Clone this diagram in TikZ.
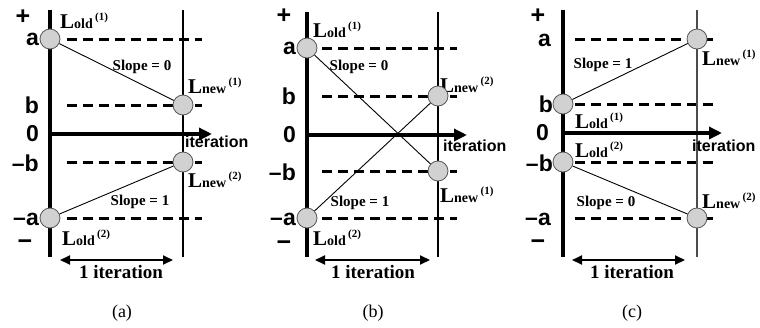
\documentclass[tikz,border=0pt]{standalone}
\usepackage{fontspec}
\setmainfont{Liberation Serif}
\newfontfamily\axfont{Liberation Sans}
\usetikzlibrary{arrows.meta}
\newcommand{\Lbl}[2]{\bfseries\fontsize{21}{21}\selectfont L\fontsize{14}{14}\selectfont #1\,\raisebox{8pt}{\fontsize{11}{11}\selectfont(#2)}}
\begin{document}
\begin{tikzpicture}[x=1pt,y=-1pt,
  axisline/.style={line width=4pt},
  rline/.style={line width=1.5pt},
  dline/.style={line width=3pt, dash pattern=on 10pt off 6pt},
  zarrow/.style={line width=4pt,-{Triangle[length=13pt,width=12pt]}},
  spanarrow/.style={line width=2pt,{Triangle[length=10pt,width=9pt]}-{Triangle[length=10pt,width=9pt]}},
  conn/.style={line width=0.9pt},
  dot/.style={circle, fill=black!18, draw=black!65, line width=0.8pt, minimum size=20pt, inner sep=0pt},
  axl/.style={font=\axfont\bfseries\fontsize{23}{23}\selectfont, anchor=east, inner sep=0pt},
  sgn/.style={font=\axfont\bfseries\fontsize{25}{25}\selectfont, inner sep=0pt},
  slopelbl/.style={font=\bfseries\fontsize{15}{15}\selectfont, inner sep=0pt},
  itl/.style={font=\axfont\bfseries\fontsize{16}{16}\selectfont, anchor=base west, inner sep=0pt},
  lab/.style={anchor=base west, inner sep=0pt},
  onei/.style={font=\bfseries\fontsize{19}{19}\selectfont, anchor=base, inner sep=0pt},
  caplbl/.style={font=\fontsize{18}{18}\selectfont, inner sep=0pt}]
\useasboundingbox[fill=white] (0,0) rectangle (760,327);

% ===== Panel (a) =====
\coordinate (aT) at (50,10); \coordinate (aB) at (50,257);
\coordinate (rT) at (183,10); \coordinate (rB) at (183,257);
\foreach \yy in {39,105,162,218} \draw[dline] (67,\yy) -- (202,\yy);
\draw[axisline] (aT) -- (aB);
\draw[rline] (rT) -- (rB);
\coordinate (az0) at (50,134); \coordinate (az1) at (212,134);
\draw[zarrow] (az0) -- (az1);
\coordinate (as0) at (60,260); \coordinate (as1) at (173,260);
\draw[spanarrow] (as0) -- (as1);
\node[sgn] (aplus) at (23,17) {+};
\node[sgn] (aminus) at (25,245) {−};
\node[axl] (la) at (39,39) {a};
\node[axl] (lb) at (39,105) {b};
\node[axl] (l0) at (39,134) {0};
\node[axl] (lmb) at (39,163) {–b};
\node[axl] (lma) at (39,219) {–a};
\node[lab] (aLo1) at (60,28) {\Lbl{old}{1}};
\node[lab] (aLn1) at (188,93) {\Lbl{new}{1}};
\node[lab] (aLn2) at (188,187) {\Lbl{new}{2}};
\node[lab] (aLo2) at (62,245) {\Lbl{old}{2}};
\node[itl] (ait) at (185,147) {iteration};
\node[slopelbl] (as0l) at (142,67) {Slope = 0};
\node[slopelbl] (as1l) at (140,202) {Slope = 1};
\node[onei] (aone) at (121,278) {1 iteration};
\node[caplbl] (acap) at (122,313) {(a)};
\node[dot] (ao1) at (50,39) {};
\node[dot] (an1) at (183,105) {};
\node[dot] (an2) at (183,162) {};
\node[dot] (ao2) at (50,218) {};
\draw[conn] (ao1) -- (an1);
\draw[conn] (ao2) -- (an2);

% ===== Panel (b) =====
\coordinate (bT) at (307,12); \coordinate (bB) at (307,257);
\coordinate (brT) at (438,12); \coordinate (brB) at (438,257);
\foreach \yy in {48,96,171,218} \draw[dline] (322,\yy) -- (457,\yy);
\draw[axisline] (bT) -- (bB);
\draw[rline] (brT) -- (brB);
\coordinate (bz0) at (307,135); \coordinate (bz1) at (467,135);
\draw[zarrow] (bz0) -- (bz1);
\coordinate (bs0) at (315,260); \coordinate (bs1) at (430,260);
\draw[spanarrow] (bs0) -- (bs1);
\node[sgn] (bplus) at (284,16) {+};
\node[sgn] (bminus) at (284,246) {−};
\node[axl] (bla) at (296,48) {a};
\node[axl] (blb) at (296,96) {b};
\node[axl] (bl0) at (296,135) {0};
\node[axl] (blmb) at (296,172) {–b};
\node[axl] (blma) at (296,219) {–a};
\node[lab] (bLo1) at (313,37) {\Lbl{old}{1}};
\node[lab] (bLn2) at (440,92) {\Lbl{new}{2}};
\node[lab] (bLn1) at (440,202) {\Lbl{new}{1}};
\node[lab] (bLo2) at (313,245) {\Lbl{old}{2}};
\node[itl] (bit) at (443,151) {iteration};
\node[slopelbl] (bs0l) at (359,67) {Slope = 0};
\node[slopelbl] (bs1l) at (360,203) {Slope = 1};
\node[onei] (bone) at (373,278) {1 iteration};
\node[caplbl] (bcap) at (373,313) {(b)};
\node[dot] (bo1) at (307,48) {};
\node[dot] (bn2) at (438,96) {};
\node[dot] (bn1) at (438,171) {};
\node[dot] (bo2) at (307,218) {};
\draw[conn] (bo1) -- (bn1);
\draw[conn] (bo2) -- (bn2);

% ===== Panel (c) =====
\coordinate (cT) at (563,10); \coordinate (cB) at (563,257);
\coordinate (crT) at (697,10); \coordinate (crB) at (697,257);
\foreach \yy in {39,104,162,218} \draw[dline] (575,\yy) -- (715,\yy);
\draw[axisline] (cT) -- (cB);
\draw[rline, black!70] (crT) -- (crB);
\coordinate (cz0) at (563,133); \coordinate (cz1) at (722,133);
\draw[zarrow] (cz0) -- (cz1);
\coordinate (cs0) at (572,260); \coordinate (cs1) at (685,260);
\draw[spanarrow] (cs0) -- (cs1);
\node[sgn] (cplus) at (538,16) {+};
\node[sgn] (cminus) at (538,245) {−};
\node[axl] (cla) at (551,40) {a};
\node[axl] (clb) at (553,104) {b};
\node[axl] (cl0) at (549,133) {0};
\node[axl] (clmb) at (553,163) {–b};
\node[axl] (clma) at (551,219) {–a};
\node[lab] (cLn1) at (702,65) {\Lbl{new}{1}};
\node[lab] (cLo1) at (575,128) {\Lbl{old}{1}};
\node[lab] (cLo2) at (575,157) {\Lbl{old}{2}};
\node[lab] (cLn2) at (702,208) {\Lbl{new}{2}};
\node[itl] (cit) at (692,151) {iteration};
\node[slopelbl] (cs1l) at (603,65) {Slope = 1};
\node[slopelbl] (cs0l) at (606,203) {Slope = 0};
\node[onei] (cone) at (632,278) {1 iteration};
\node[caplbl] (ccap) at (632,313) {(c)};
\node[dot] (co1) at (563,104) {};
\node[dot] (cn1) at (697,39) {};
\node[dot] (co2) at (563,162) {};
\node[dot] (cn2) at (697,218) {};
\draw[conn] (co1) -- (cn1);
\draw[conn] (co2) -- (cn2);
\end{tikzpicture}
\end{document}
